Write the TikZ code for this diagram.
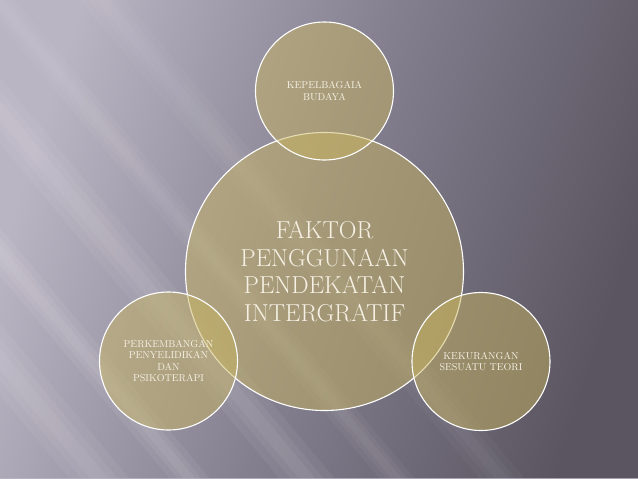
\documentclass[tikz,border=0pt]{standalone}
\usetikzlibrary{calc,positioning}

\definecolor{bgdark}{HTML}{5A5560}
\definecolor{bgmid}{HTML}{858090}
\definecolor{bglight}{HTML}{BAB5C3}
\definecolor{olive}{HTML}{C8B45E}
\definecolor{txtcream}{HTML}{F6F1E4}

\tikzset{
	bubble/.style={circle, draw=white, line width=1.1pt, fill=olive, fill opacity=0.48,
		text opacity=1, text=txtcream, align=center, inner sep=0pt},
	bigbubble/.style={bubble, minimum size=278pt, font=\fontsize{24.5}{27.5}\selectfont},
	smallbubble/.style={bubble, minimum size=138pt, font=\fontsize{10}{11.5}\selectfont},
}

\begin{document}
\begin{tikzpicture}[x=1pt, y=-1pt]
		\useasboundingbox (0,0) rectangle (638,479);
		% background
		\shade[top color=bglight, bottom color=bgdark, middle color=bgmid, shading angle=72] (0,0) rectangle (638,479);
		\foreach \off/\w/\op in {-330/60/0.05, -230/40/0.06, -120/55/0.05, -20/35/0.04, 80/45/0.03} {
			\fill[white, opacity=\op] (\off,0) -- ++(\w,0) -- ++(400,479) -- ++(-\w,0) -- cycle;
			\fill[white, opacity=\op] (\off+0.2*\w,0) -- ++(0.6*\w,0) -- ++(400,479) -- ++(-0.6*\w,0) -- cycle;
			\fill[white, opacity=\op] (\off+0.35*\w,0) -- ++(0.3*\w,0) -- ++(400,479) -- ++(-0.3*\w,0) -- cycle;
		}
		\fill[bglight, opacity=0.8] (0,477.5) rectangle (638,479);
		%
		\node[bigbubble] (faktor) at (324.5,271.5) {FAKTOR\\PENGGUNAAN\\PENDEKATAN\\INTERGRATIF};
		\node[smallbubble] (budaya) at ($(faktor)+(0,-180.5)$) {KEPELBAGAIA\\BUDAYA};
		\node[smallbubble] (kembang) at ($(faktor)+(-156,89.5)$) {PERKEMBANGAN\\PENYELIDIKAN\\DAN\\PSIKOTERAPI};
		\node[smallbubble] (kurang) at ($(faktor)+(156.5,90)$) {KEKURANGAN\\SESUATU TEORI};
	\end{tikzpicture}
\end{document}
